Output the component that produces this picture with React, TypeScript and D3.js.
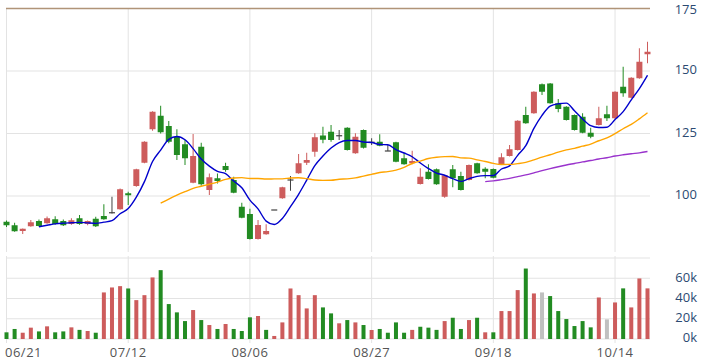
import React from "react";
import * as d3 from "d3";

const opens = [89.7, 88.3, 86.0, 87.9, 90.0, 89.1, 90.7, 90.0, 88.8, 91.1, 88.8, 90.9, 92.0, 93.3, 94.7, 101.1, 104.0, 113.3, 126.7, 132.1, 128.0, 123.7, 120.7, 105.3, 119.7, 102.4, 107.1, 112.0, 106.4, 95.7, 92.8, 82.8, 84.7, 94.4, 99.1, 106.4, 109.1, 113.3, 117.7, 124.2, 125.7, 124.1, 127.3, 117.1, 126.4, 121.5, 121.7, 118.0, 121.5, 115.1, 113.1, 104.8, 109.7, 110.7, 99.7, 110.7, 108.0, 106.4, 113.1, 110.9, 110.8, 112.8, 116.0, 118.4, 132.4, 133.1, 144.7, 145.0, 137.1, 135.7, 132.4, 131.7, 125.3, 128.4, 132.7, 131.1, 143.7, 139.3, 147.1, 156.7];
const highs = [90.2, 89.3, 87.0, 90.4, 90.6, 91.8, 91.9, 90.6, 91.1, 92.4, 90.2, 91.7, 96.7, 99.7, 103.0, 101.7, 110.9, 121.9, 133.9, 136.1, 130.0, 126.7, 122.4, 124.8, 121.3, 109.0, 109.0, 113.3, 107.7, 97.3, 94.9, 90.4, 88.7, 94.4, 103.7, 108.0, 116.8, 117.3, 125.1, 127.7, 128.4, 126.4, 127.5, 125.1, 126.6, 123.1, 124.7, 120.4, 121.7, 117.1, 118.1, 111.1, 112.7, 111.0, 108.5, 112.4, 109.7, 112.6, 113.3, 111.5, 111.0, 117.1, 120.4, 130.3, 135.7, 141.9, 145.0, 145.2, 138.8, 135.9, 132.6, 133.1, 127.3, 135.7, 136.1, 141.9, 151.7, 147.5, 159.1, 161.7];
const lows = [87.6, 85.7, 84.8, 87.7, 87.8, 88.9, 88.5, 88.0, 88.5, 88.5, 88.3, 87.6, 90.5, 93.0, 94.5, 96.4, 103.7, 113.1, 126.1, 125.0, 121.1, 114.4, 112.4, 105.1, 104.1, 100.4, 105.0, 109.7, 101.1, 91.1, 82.6, 82.6, 84.5, 94.4, 98.9, 102.1, 108.9, 112.4, 115.7, 121.1, 121.7, 122.4, 118.2, 116.9, 119.0, 120.4, 119.9, 118.0, 113.5, 112.5, 112.7, 104.6, 106.6, 104.5, 99.3, 103.5, 102.2, 106.2, 108.9, 107.1, 107.1, 112.6, 115.8, 118.2, 128.9, 132.9, 140.4, 136.9, 133.5, 130.2, 126.2, 125.1, 123.1, 128.2, 130.0, 130.9, 139.7, 139.1, 146.9, 153.1];
const closes = [88.3, 85.9, 86.9, 89.5, 88.0, 91.1, 88.8, 88.3, 90.3, 88.8, 90.0, 87.9, 90.7, 93.3, 102.7, 100.3, 110.7, 121.7, 133.7, 125.5, 121.7, 116.4, 115.1, 116.0, 104.7, 107.5, 106.0, 110.4, 101.3, 91.3, 82.8, 88.4, 86.0, 94.4, 103.5, 106.4, 113.1, 114.4, 123.5, 122.5, 122.4, 124.1, 118.4, 123.7, 119.3, 121.5, 120.1, 118.0, 113.7, 112.7, 114.0, 107.7, 106.8, 104.7, 108.3, 107.1, 102.4, 112.4, 109.1, 109.7, 107.3, 115.5, 118.7, 130.1, 129.1, 141.7, 141.7, 137.1, 134.8, 130.4, 126.4, 125.3, 123.7, 131.1, 131.1, 141.7, 141.1, 147.3, 153.7, 157.7];
const volumesK = [6.6, 9.9, 6.2, 11.2, 7.5, 12.5, 6.6, 7.5, 11.5, 9.0, 7.9, 6.2, 46.0, 50.9, 52.2, 49.9, 38.4, 43.3, 60.8, 68.0, 34.5, 26.3, 17.7, 28.6, 18.7, 13.8, 9.9, 14.8, 9.9, 7.9, 21.4, 22.7, 9.0, 3.0, 16.4, 49.9, 43.3, 30.2, 43.3, 31.2, 25.3, 15.5, 18.7, 16.4, 13.8, 8.9, 9.9, 6.2, 16.4, 6.2, 9.0, 12.1, 11.2, 9.0, 17.7, 21.0, 9.9, 18.7, 21.0, 6.6, 6.6, 27.6, 27.6, 48.3, 69.6, 45.0, 46.0, 42.4, 27.6, 19.7, 12.8, 17.7, 11.5, 41.0, 19.4, 36.1, 50.0, 31.2, 59.8, 50.0];

const dateLabels = ["06/21", "07/12", "08/06", "08/27", "09/18", "10/14"];
const dateLabelIndex = [0, 15, 30, 45, 60, 75];
const priceTicks = [100, 125, 150, 175];
const volumeTicks = [0, 20, 40, 60];
const volumeGrid = [0, 20, 40, 60, 80];
const maPeriods = [5, 20, 60];
const maColors = ["#0000cc", "#ffa500", "#9932cc"];

const RED = "#cd5c5c";
const GREEN = "#228b22";
const GREY = "#c0c0c0";
const DOJI = "#404040";
const LABEL = "#2c4a72";

export default function App() {
  const n = closes.length;
  const x = d3.scaleLinear().domain([0, n - 1]).range([6.5, 647.5]);
  const y = d3.scaleLinear().domain([100, 175]).range([196, 8.5]);
  const yv = d3.scaleLinear().domain([0, 80]).range([339, 258]);
  const plotLeft = 6;
  const plotRight = 650;

  const mas = maPeriods.map((p) =>
    closes.map((_, i) => (i >= p - 1 ? d3.mean(closes.slice(i - p + 1, i + 1)) : null))
  );
  const line = d3
    .line<number | null>()
    .defined((d) => d != null)
    .x((_, i) => x(i))
    .y((d) => y(d as number))
    .curve(d3.curveMonotoneX);

  const volColor = (i: number) => {
    const prev = i === 0 ? opens[0] : closes[i - 1];
    if (closes[i] > prev) return RED;
    if (closes[i] < prev) return GREEN;
    return GREY;
  };
  const candleColor = (i: number) =>
    closes[i] > opens[i] ? RED : closes[i] < opens[i] ? GREEN : DOJI;

  const bodyW = 6;
  const volW = 4;

  return (
    <div style={{ position: "absolute", left: 0, top: 0 }}>
      <svg width={704} height={361} style={{ display: "block", background: "#fff" }}>
        {/* vertical grid */}
        {dateLabelIndex.map((di, k) => (
          <g key={"vg" + k}>
            <line x1={x(di)} x2={x(di)} y1={8} y2={252} stroke="#e3e3e3" strokeWidth={1} />
            <line x1={x(di)} x2={x(di)} y1={256} y2={343} stroke="#e3e3e3" strokeWidth={1} />
          </g>
        ))}
        {/* price horizontal grid */}
        {priceTicks.map((t) => (
          <line
            key={"pg" + t}
            x1={plotLeft}
            x2={plotRight}
            y1={y(t)}
            y2={y(t)}
            stroke={t === 175 ? "#b09478" : "#e3e3e3"}
            strokeWidth={t === 175 ? 1.5 : 1}
          />
        ))}
        {/* volume horizontal grid */}
        {volumeGrid.map((t) => (
          <line key={"vgh" + t} x1={plotLeft} x2={plotRight} y1={yv(t)} y2={yv(t)} stroke="#e3e3e3" strokeWidth={1} />
        ))}
        {/* candles */}
        {closes.map((c, i) => {
          const col = candleColor(i);
          const cx = x(i);
          const top = y(Math.max(opens[i], c));
          const bot = y(Math.min(opens[i], c));
          return (
            <g key={"c" + i}>
              <line x1={cx} x2={cx} y1={y(highs[i])} y2={y(lows[i])} stroke={col} strokeWidth={1} />
              {col === DOJI ? (
                <line x1={cx - bodyW / 2} x2={cx + bodyW / 2} y1={top} y2={top} stroke={col} strokeWidth={1.2} />
              ) : (
                <rect x={cx - bodyW / 2} y={top} width={bodyW} height={Math.max(1, bot - top)} fill={col} />
              )}
            </g>
          );
        })}
        {/* moving averages */}
        {mas.map((m, k) => (
          <path key={"ma" + k} d={line(m) || ""} fill="none" stroke={maColors[k]} strokeWidth={1.4} />
        ))}
        {/* volume bars */}
        {volumesK.map((v, i) => (
          <rect key={"v" + i} x={x(i) - volW / 2} y={yv(v)} width={volW} height={yv(0) - yv(v)} fill={volColor(i)} />
        ))}
        {/* price labels */}
        {priceTicks.map((t) => (
          <text
            key={"pl" + t}
            x={697}
            y={y(t) + (t === 175 ? 2 : 0)}
            textAnchor="end"
            dominantBaseline="middle"
            fontFamily="'Open Sans', sans-serif"
            fontSize={13}
            fill={LABEL}
          >
            {t}
          </text>
        ))}
        {volumeTicks.map((t) => (
          <text
            key={"vl" + t}
            x={697}
            y={yv(t)}
            textAnchor="end"
            dominantBaseline="middle"
            fontFamily="'Open Sans', sans-serif"
            fontSize={13}
            fill={LABEL}
          >
            {t + "k"}
          </text>
        ))}
        {dateLabels.map((d, k) => (
          <text
            key={"dl" + k}
            x={k === 0 ? 5 : x(dateLabelIndex[k])}
            y={357}
            textAnchor={k === 0 ? "start" : "middle"}
            fontFamily="'Open Sans', sans-serif"
            fontSize={13}
            fill="#555"
            letterSpacing={0.5}
          >
            {d}
          </text>
        ))}
      </svg>
    </div>
  );
}
